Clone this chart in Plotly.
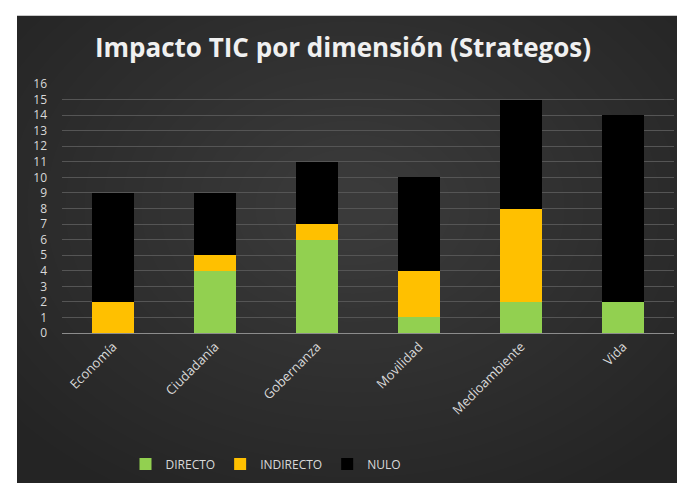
import plotly.graph_objects as go

dimensiones = ["Economía", "Ciudadanía", "Gobernanza", "Movilidad", "Medioambiente", "Vida"]
directo = [0, 4, 6, 1, 2, 2]
indirecto = [2, 1, 1, 3, 6, 0]
nulo = [7, 4, 4, 6, 7, 12]
y_ticks = list(range(0, 17))

W, H = 685, 483
L, R, T, B = 54, 19, 76, 156
pw, ph = W - L - R, H - T - B


def px_x(p):
    return (p - L) / pw


def px_y(p):
    return (H - B - p) / ph


txt = "#d9d9d9"
fig = go.Figure()
fig.add_bar(x=dimensiones, y=directo, name="DIRECTO", marker_color="#92D050")
fig.add_bar(x=dimensiones, y=indirecto, name="INDIRECTO", marker_color="#FFC000")
fig.add_bar(x=dimensiones, y=nulo, name="NULO", marker_color="#000000")
fig.update_traces(marker_line_width=0)

# dark panel with a soft lighter centre
x_left, x_right, y_top, y_bot = 9, 685, 7, 483
shapes = [dict(type="rect", xref="paper", yref="paper", layer="below",
               x0=px_x(x_left), x1=px_x(x_right), y0=px_y(y_bot), y1=px_y(y_top),
               fillcolor="#242424", line_width=0)]
cx, cy = 345, 200
for i in range(22):
    rx = 440 - i * 19
    ry = rx * 0.75
    shapes.append(dict(type="circle", xref="paper", yref="paper", layer="below",
                       x0=px_x(cx - rx), x1=px_x(cx + rx),
                       y0=px_y(cy + ry), y1=px_y(cy - ry),
                       fillcolor="white", opacity=0.008, line_width=0))
# white frame on top/left edges (covers stray ellipse parts)
shapes.append(dict(type="rect", xref="paper", yref="paper", layer="below",
                   x0=px_x(-50), x1=px_x(x_left), y0=px_y(600), y1=px_y(-100),
                   fillcolor="white", line_width=0))
shapes.append(dict(type="rect", xref="paper", yref="paper", layer="below",
                   x0=px_x(-50), x1=px_x(800), y0=px_y(y_top), y1=px_y(-100),
                   fillcolor="white", line_width=0))

fig.update_layout(
    width=W, height=H,
    margin=dict(l=L, r=R, t=T, b=B),
    paper_bgcolor="white", plot_bgcolor="rgba(0,0,0,0)",
    barmode="stack", bargap=0.59,
    shapes=shapes,
    font=dict(family="Open Sans", color=txt, size=12),
    title=dict(text="<b>Impacto TIC por dimensión (Strategos)</b>",
               x=px_x(335), xref="paper", xanchor="center",
               y=1 - 40 / H, yanchor="middle",
               font=dict(family="Open Sans", size=26, color="#f0f0f0")),
    legend=dict(orientation="h", x=px_x(258), xanchor="center", y=px_y(459), yanchor="middle",
                bgcolor="rgba(0,0,0,0)", font=dict(size=12, color=txt),
                itemwidth=30, traceorder="normal"),
    xaxis=dict(tickangle=-45, showgrid=False, showline=True, linecolor="#8c8c8c",
               linewidth=1, tickfont=dict(size=13, color=txt)),
    yaxis=dict(range=[0, 16], tickvals=y_ticks, showgrid=True, gridcolor="#555555",
               gridwidth=1, zeroline=False, showline=False, ticklabelstandoff=14,
               tickfont=dict(size=12, color=txt)),
)
fig.write_html("out.html")
